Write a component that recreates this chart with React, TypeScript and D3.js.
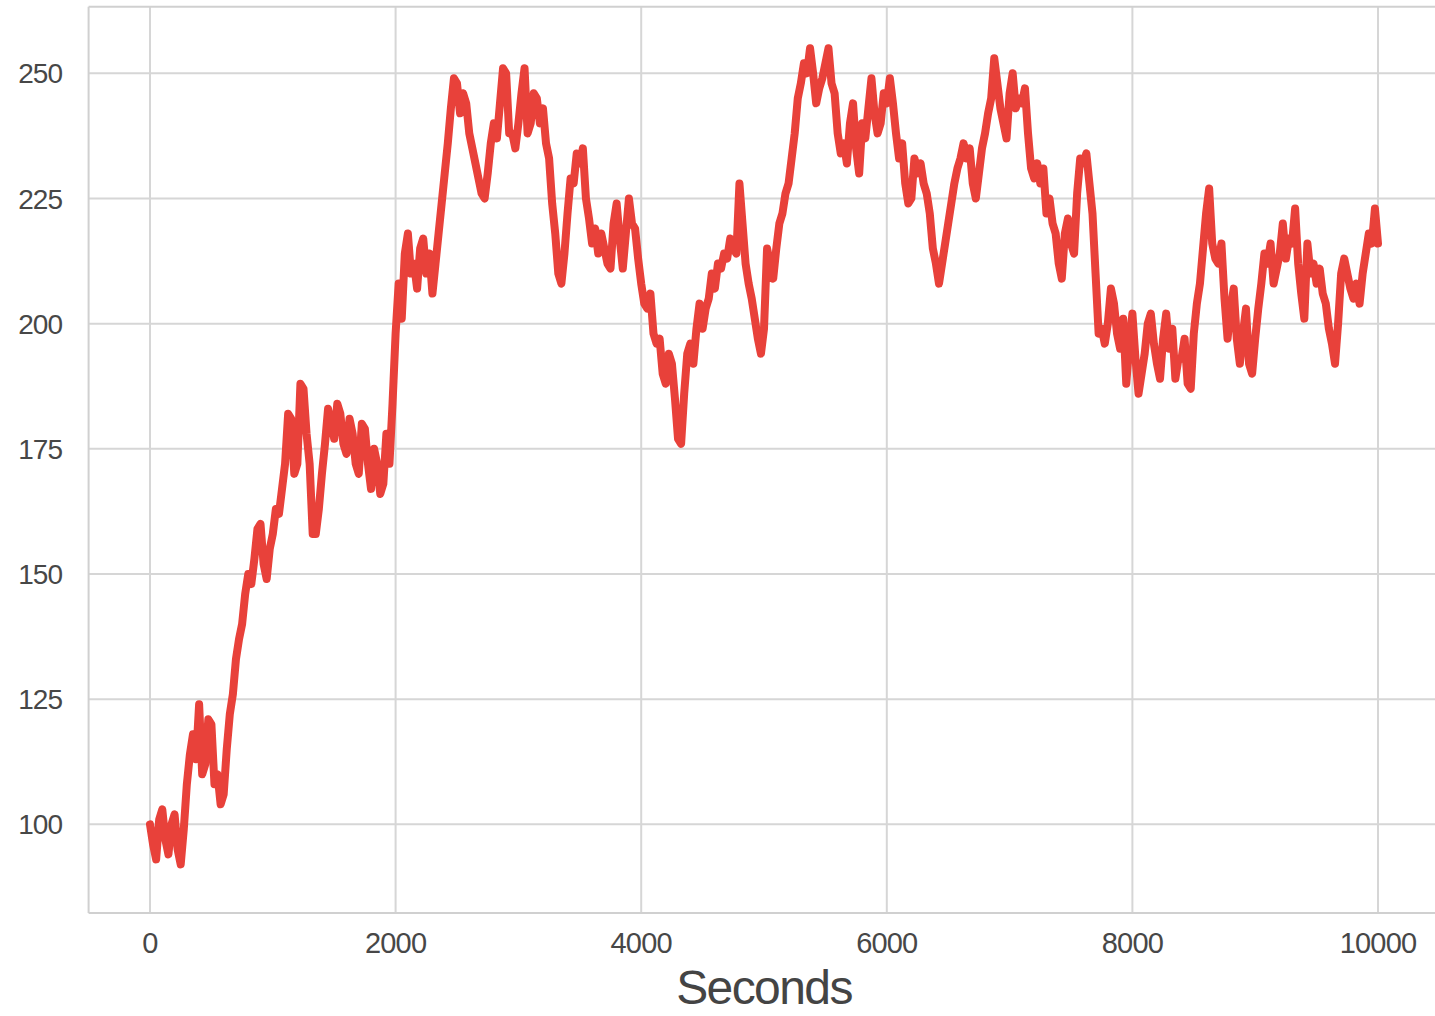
import React from "react";
import * as d3 from "d3";

const STEP = 25;
const values: number[] = [
  // 0 - 975
  100, 96, 93, 101, 103, 97, 94, 100, 102, 95, 92, 99, 108, 114, 118, 113, 124, 110, 112, 121,
  120, 108, 110, 104, 106, 115, 122, 126, 133, 137, 140, 146, 150, 148, 153, 159, 160, 152, 149, 155,
  // 1000 - 1975
  158, 163, 162, 167, 172, 182, 181, 170, 172, 188, 187, 178, 172, 158, 158, 163, 170, 176, 183, 180,
  177, 184, 182, 176, 174, 181, 178, 172, 170, 180, 179, 172, 167, 175, 172, 166, 168, 178, 172, 184,
  // 2000 - 2975
  198, 208, 201, 214, 218, 210, 212, 207, 215, 217, 210, 214, 206, 212, 218, 224, 230, 236, 243, 249,
  248, 242, 246, 244, 238, 235, 232, 229, 226, 225, 230, 236, 240, 237, 244, 251, 250, 238, 238, 235,
  // 3000 - 3975
  240, 246, 251, 238, 240, 246, 245, 240, 243, 236, 233, 224, 218, 210, 208, 214, 222, 229, 228, 234,
  232, 235, 225, 221, 216, 219, 214, 218, 215, 212, 211, 220, 224, 217, 211, 218, 225, 220, 219, 213,
  // 4000 - 4975
  208, 204, 203, 206, 198, 196, 197, 190, 188, 194, 192, 185, 177, 176, 186, 194, 196, 192, 199, 204,
  199, 203, 205, 210, 207, 212, 211, 214, 213, 217, 215, 214, 228, 220, 212, 208, 205, 201, 197, 194,
  // 5000 - 5975
  199, 215, 212, 209, 215, 220, 222, 226, 228, 233, 238, 245, 248, 252, 250, 255, 250, 244, 247, 249,
  252, 255, 248, 246, 238, 234, 236, 232, 240, 244, 235, 230, 240, 237, 243, 249, 242, 238, 240, 246,
  // 6000 - 6975
  244, 249, 244, 238, 233, 236, 228, 224, 225, 233, 230, 232, 228, 226, 222, 215, 212, 208, 212, 216,
  220, 224, 228, 231, 233, 236, 233, 235, 228, 225, 230, 235, 238, 242, 245, 253, 248, 243, 240, 237,
  // 7000 - 7975
  246, 250, 243, 245, 244, 247, 238, 231, 229, 232, 228, 231, 222, 225, 220, 218, 212, 209, 218, 221,
  216, 214, 226, 233, 232, 234, 228, 222, 210, 198, 199, 196, 200, 207, 204, 198, 195, 201, 188, 196,
  // 8000 - 8975
  202, 193, 186, 190, 194, 200, 202, 196, 192, 189, 197, 202, 195, 199, 189, 193, 193, 197, 188, 187,
  198, 204, 208, 215, 222, 227, 216, 213, 212, 216, 205, 197, 203, 207, 197, 192, 198, 203, 192, 190,
  // 9000 - 10000
  197, 203, 208, 214, 212, 216, 208, 211, 214, 220, 213, 217, 216, 223, 212, 206, 201, 216, 210, 212,
  208, 211, 206, 204, 199, 196, 192, 200, 210, 213, 210, 207, 205, 208, 204, 210, 214, 218, 216, 223,
  216,
];
const seconds: number[] = values.map((_, i) => i * STEP);
const xTicks: number[] = [0, 2000, 4000, 6000, 8000, 10000];
const yTicks: number[] = [100, 125, 150, 175, 200, 225, 250];
const xLabel = "Seconds";

const W = 1435;
const H = 1016;
const plot = { left: 88.6, right: 1439.4, top: 6.7, bottom: 913 };

export default function App() {
  const x = d3.scaleLinear().domain([-500, 10500]).range([plot.left, plot.right]);
  const y = d3.scaleLinear().domain([82.3, 263.3]).range([plot.bottom, plot.top]);
  const line = d3
    .line<number>()
    .x((_, i) => x(seconds[i]))
    .y((d) => y(d));
  const grid = "#d6d6d6";
  const textColor = "#474747";
  const font = "'Liberation Sans', Arial, Helvetica, sans-serif";
  return (
    <svg
      width={W}
      height={H}
      style={{ position: "absolute", left: 0, top: 0, background: "#fff" }}
    >
      <defs>
        <clipPath id="plotclip">
          <rect x={plot.left} y={plot.top} width={plot.right - plot.left} height={plot.bottom - plot.top} />
        </clipPath>
      </defs>
      {xTicks.map((t) => (
        <line key={"gx" + t} x1={x(t)} x2={x(t)} y1={plot.top} y2={plot.bottom} stroke={grid} strokeWidth={2} />
      ))}
      {yTicks.map((t) => (
        <line key={"gy" + t} x1={plot.left} x2={plot.right} y1={y(t)} y2={y(t)} stroke={grid} strokeWidth={2} />
      ))}
      <line x1={plot.left} x2={plot.left} y1={plot.top} y2={plot.bottom} stroke="#d0d0d0" strokeWidth={2} />
      <line x1={plot.left} x2={plot.right} y1={plot.top} y2={plot.top} stroke="#d0d0d0" strokeWidth={2} />
      <line x1={plot.left} x2={plot.right} y1={plot.bottom} y2={plot.bottom} stroke="#d0d0d0" strokeWidth={2} />
      <path
        d={line(values) || ""}
        fill="none"
        stroke="#e8413a"
        strokeWidth={8}
        strokeLinejoin="round"
        strokeLinecap="round"
        clipPath="url(#plotclip)"
      />
      {yTicks.map((t) => (
        <text
          key={"ty" + t}
          x={62}
          y={y(t)}
          dy="0.36em"
          textAnchor="end"
          fontFamily={font}
          fontSize={28}
          letterSpacing={-1}
          fill={textColor}
        >
          {t}
        </text>
      ))}
      {xTicks.map((t) => (
        <text
          key={"tx" + t}
          x={x(t)}
          y={953}
          textAnchor="middle"
          fontFamily={font}
          fontSize={29}
          letterSpacing={-0.8}
          fill={textColor}
        >
          {t}
        </text>
      ))}
      <text
        x={764}
        y={1004}
        textAnchor="middle"
        fontFamily={font}
        fontSize={48}
        letterSpacing={-1.6}
        fill="#444"
      >
        {xLabel}
      </text>
    </svg>
  );
}
